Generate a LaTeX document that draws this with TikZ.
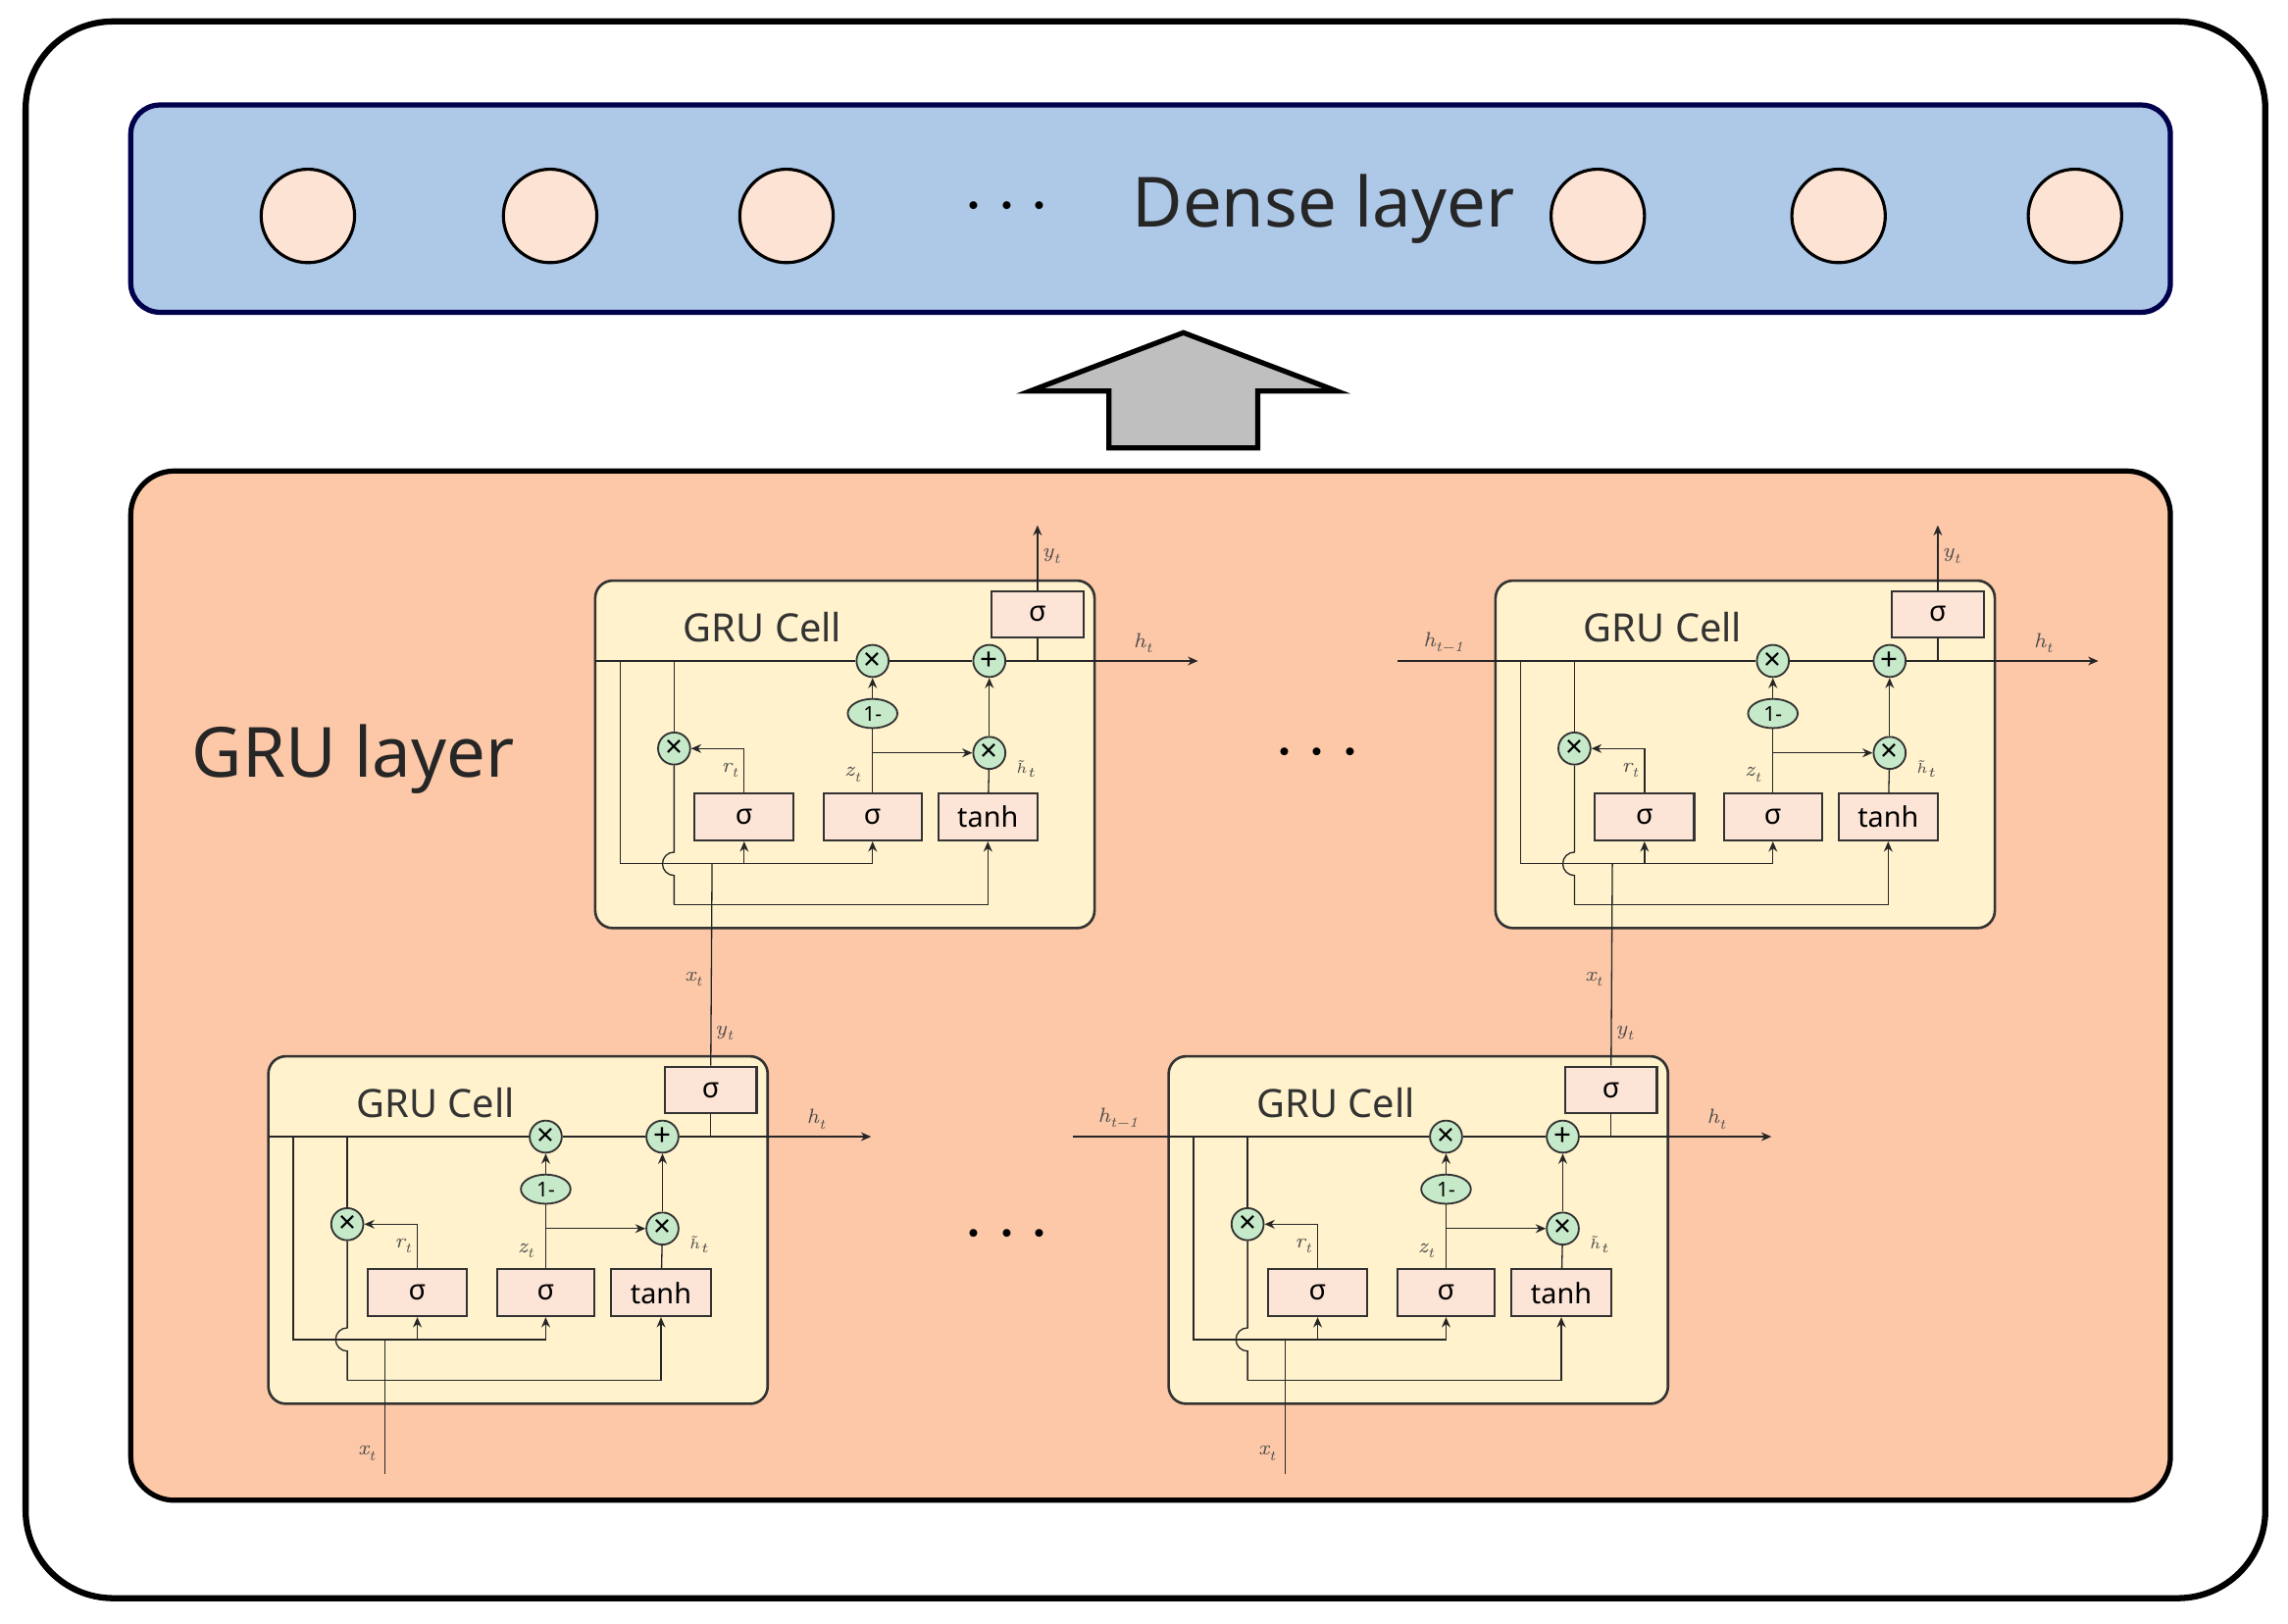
\documentclass[tikz,border=0pt]{standalone}
\usepackage{fontspec}
\setmainfont{Noto Sans}
\newfontfamily\lmr{Latin Modern Roman}
\usetikzlibrary{arrows.meta,shapes.geometric}
\definecolor{denseblue}{HTML}{AEC8E8}
\definecolor{gruorange}{HTML}{FCC8A8}
\definecolor{cellfill}{HTML}{FFF2CC}
\definecolor{peach}{HTML}{FDE3D3}
\definecolor{boxfill}{HTML}{FCE4D6}
\definecolor{opgreen}{HTML}{C6E9C9}
\tikzset{
  ar/.style={-{Stealth[length=0.07cm,width=0.06cm]}},
  ln/.style={line width=0.25pt, draw=black!85},
  cellbox/.style={draw=black!80, line width=0.5pt, fill=cellfill, rounded corners=0.12cm, minimum width=3.42cm, minimum height=2.38cm},
  fbox/.style={draw=black!80, line width=0.4pt, fill=boxfill, minimum height=0.32cm, font=\fontsize{5.5}{6}\selectfont\bfseries, inner sep=0pt},
  op/.style={circle, draw=black!80, line width=0.35pt, fill=opgreen, minimum size=0.22cm, inner sep=0pt, font=\fontsize{6}{6}\selectfont\bfseries},
  lab/.style={font=\lmr\fontsize{4}{4}\selectfont\itshape, inner sep=0pt, text=black!70},
  neuron/.style={circle, draw=black, line width=0.6pt, fill=peach, minimum size=0.64cm, inner sep=0pt},
  pics/gru/.style={code={
    \node[cellbox] (-box) at (171,119) {};
    \node[anchor=west, font=\fontsize{7.6}{8}\selectfont, text=black!80] (-title) at (48,32) {GRU Cell};
    \node[fbox, minimum width=0.63cm] (-so) at (303,23) {σ};
    \node[op] (-mt) at (190,55) {×};
    \node[op] (-pl) at (270,55) {+};
    \node[ellipse, draw=black!80, line width=0.35pt, fill=opgreen, minimum width=0.34cm, minimum height=0.2cm, inner sep=0pt, font=\fontsize{4}{4}\selectfont\bfseries] (-om) at (190,91) {1-};
    \node[op] (-mr) at (54,115) {×};
    \node[op] (-mh) at (270,118) {×};
    \node[fbox, minimum width=0.68cm] (-s1) at (102,162) {σ};
    \node[fbox, minimum width=0.67cm] (-s2) at (190,162) {σ};
    \node[fbox, minimum width=0.68cm] (-th) at (269,162) {tanh};
    \coordinate (-L) at (0,55);
    \coordinate (-R) at (413,55);
    \coordinate (-hj) at (303,55);
    \coordinate (-a) at (54,55);
    \coordinate (-b1) at (54,186);
    \coordinate (-b2) at (54,222);
    \coordinate (-c) at (17,55);
    \coordinate (-c1) at (17,194);
    \coordinate (-c2) at (102,194);
    \coordinate (-zb) at (190,118);
    \coordinate (-in) at (80,194);
    \draw[ln] (-L) -- (-mt);
    \draw[ln] (-mt) -- (-pl);
    \draw[ln,ar] (-pl) -- (-R);
    \draw[ln] (-so) -- (-hj);
    \draw[ln,ar] (-om) -- (-mt);
    \draw[ln,ar] (-mh) -- (-pl);
    \draw[ln] (-th) -- (-mh);
    \draw[ln] (-s2) -- (-om);
    \draw[ln,ar] (-zb) -- (-mh);
    \draw[ln,ar] (-s1) |- (-mr);
    \draw[ln] (-a) -- (-mr);
    \draw[ln] (-mr) -- (-b1) arc(90:270:0.08cm) -- (-b2);
    \draw[ln,ar] (-b2) -| (-th);
    \draw[ln,ar] (-c) -- (-c1) -| (-s2);
    \draw[ln,ar] (-c2) -- (-s1);
    \node[lab] (-hl) at (376,43) {h\textsubscript{t}};
    \node[lab] (-rl) at (93,130) {r\textsubscript{t}};
    \node[lab] (-zl) at (177,133) {z\textsubscript{t}};
    \node[lab, scale=0.55, anchor=west] (-htl) at (288,129) {$\tilde{h}_t$};
  }}
}
\begin{document}
\begin{tikzpicture}[x=0.01cm,y=-0.01cm]
\useasboundingbox (0,0) rectangle (1568,1113);
\node[draw=black, line width=1.2pt, rounded corners=0.6cm, minimum width=15.34cm, minimum height=10.8cm] (outer) at (785,555) {};
\node[draw=black!70!blue, line width=1pt, fill=denseblue, rounded corners=0.2cm, minimum width=13.97cm, minimum height=1.42cm] (dense) at (788.5,143) {};
\foreach \i/\x in {1/211,2/377,3/539,4/1095,5/1260,6/1422}{
  \node[neuron] (n\i) at (\x,148) {};
}
\node[font=\fontsize{14}{16}\selectfont\bfseries] (dd1) at (690,142) {$\cdots$};
\node[font=\fontsize{13.5}{16}\selectfont, text=black!85] (dlab) at (907,143) {Dense layer};
\draw[fill=black!25, draw=black, line width=1pt] (760,307) -- (760,268) -- (706,268) -- (811,228) -- (916,268) -- (862,268) -- (862,307) -- cycle;
\node[draw=black, line width=1pt, fill=gruorange, rounded corners=0.3cm, minimum width=13.97cm, minimum height=7.05cm] (grul) at (788.5,675.5) {};
\node[font=\fontsize{13.5}{16}\selectfont, text=black!85] (glab) at (242,520) {GRU layer};
\node[font=\fontsize{14}{16}\selectfont\bfseries] (dd2) at (903,517) {$\cdots$};
\node[font=\fontsize{14}{16}\selectfont\bfseries] (dd3) at (690,847) {$\cdots$};
\pic (c1) at (408,398) {gru};
\pic (c2) at (1025,398) {gru};
\pic (c3) at (184,724) {gru};
\pic (c4) at (801,724) {gru};
\coordinate (y1) at (711,360);
\coordinate (y2) at (1328,360);
\draw[ln,ar] (c1-so) -- (y1);
\draw[ln,ar] (c2-so) -- (y2);
\node[lab] (yl1) at (721,381) {y\textsubscript{t}};
\node[lab] (yl2) at (1338,381) {y\textsubscript{t}};
\draw[ln] (c3-so) -- (c1-in);
\draw[ln] (c4-so) -- (c2-in);
\node[lab] (yl3) at (497,708) {y\textsubscript{t}};
\node[lab] (yl4) at (1114,708) {y\textsubscript{t}};
\node[lab] (xl1) at (476,671) {x\textsubscript{t}};
\node[lab] (xl2) at (1093,671) {x\textsubscript{t}};
\coordinate (x3) at (264,1010);
\coordinate (x4) at (881,1010);
\draw[ln] (x3) -- (c3-in);
\draw[ln] (x4) -- (c4-in);
\node[lab] (xl3) at (252,996) {x\textsubscript{t}};
\node[lab] (xl4) at (869,996) {x\textsubscript{t}};
\coordinate (p2) at (958,453);
\coordinate (p4) at (735,779);
\draw[ln] (p2) -- (c2-L);
\draw[ln] (p4) -- (c4-L);
\node[lab] (hp2) at (990,440) {h\textsubscript{t−1}};
\node[lab] (hp4) at (767,766) {h\textsubscript{t−1}};
\end{tikzpicture}
\end{document}
